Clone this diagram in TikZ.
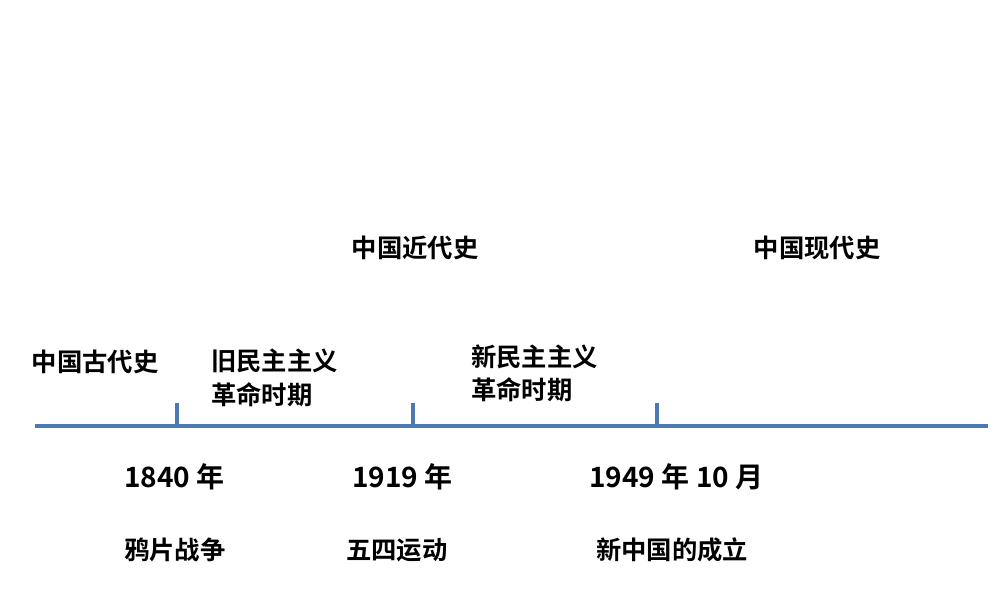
\documentclass[tikz,border=0pt]{standalone}
\usepackage{fontspec}
\newfontfamily\cjk{Noto Sans CJK SC}[BoldFont={* Bold}]
\begin{document}
\begin{tikzpicture}[x=0.75pt,y=-0.75pt,
 lbl/.style={font=\cjk\bfseries\fontsize{19pt}{25pt}\selectfont,inner sep=0pt,align=left},
 num/.style={font=\cjk\bfseries\fontsize{21pt}{25pt}\selectfont,inner sep=0pt},
 axis/.style={line width=3.5pt,color=axisblue}]
\definecolor{axisblue}{HTML}{4A7AB2}
\useasboundingbox (0,0) rectangle (1000,600);
\coordinate (L) at (35,426); \coordinate (R) at (988,426);
\draw[axis] (L) -- (R);
\coordinate (t1) at (177,426); \coordinate (t1u) at (177,403);
\coordinate (t2) at (413,426); \coordinate (t2u) at (413,403);
\coordinate (t3) at (657,426); \coordinate (t3u) at (657,403);
\draw[axis] (t1) -- (t1u); \draw[axis] (t2) -- (t2u); \draw[axis] (t3) -- (t3u);
\node[lbl] (a) at (415,248) {中国近代史};
\node[lbl] (b) at (817,248) {中国现代史};
\node[lbl] (c) at (95,362) {中国古代史};
\node[lbl,anchor=west] (d) at (211,378) {旧民主主义\\革命时期};
\node[lbl,anchor=west] (e) at (471,373) {新民主主义\\革命时期};
\node[num,anchor=west] (f) at (124,477) {1840 年};
\node[num,anchor=west] (g) at (352,477) {1919 年};
\node[num,anchor=west] (h) at (589,477) {1949 年 10 月};
\node[lbl,anchor=west] (i) at (124,550) {鸦片战争};
\node[lbl,anchor=west] (j) at (346,550) {五四运动};
\node[lbl,anchor=west] (k) at (596,550) {新中国的成立};
\end{tikzpicture}
\end{document}
